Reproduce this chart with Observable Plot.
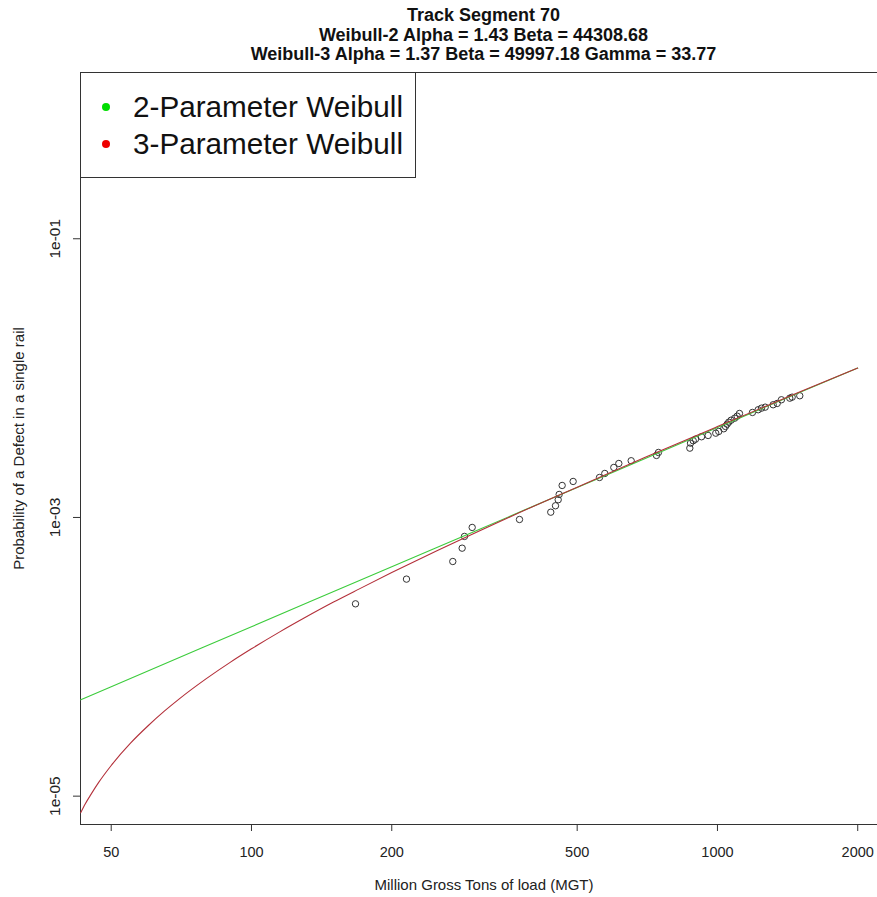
<!DOCTYPE html>
<html>
<head>
<meta charset="utf-8">
<script src="https://cdn.jsdelivr.net/npm/d3@7"></script>
<script src="https://cdn.jsdelivr.net/npm/@observablehq/plot@0.6"></script>
<style>
  html, body { margin: 0; padding: 0; background: #fff; overflow: hidden; }
  #wrap { position: relative; width: 877px; height: 897px; overflow: hidden; font-family: "Liberation Sans", Arial, sans-serif; }
  #title { position: absolute; top: 6px; left: 0; width: 967px; text-align: center; font-weight: bold; font-size: 18px; line-height: 19.5px; color: #111; }
  #chart { position: absolute; top: 0; left: 0; width: 905px; }
  #chart svg { max-width: none !important; width: 905px !important; height: 897px !important; }
  #legend { position: absolute; left: 80px; top: 72px; width: 334px; height: 104px; border: 1px solid #333; background: #fff; }
  .row { position: absolute; left: 0; height: 34px; font-size: 29.7px; line-height: 34px; color: #111; white-space: nowrap; }
  .dot { position: absolute; left: 21px; top: 13px; width: 8px; height: 8px; border-radius: 50%; }
  .lab { position: absolute; left: 52px; top: 0; }
</style>
</head>
<body>
<div id="wrap">
  <div id="chart"></div>
  <div id="title"></div>
  <div id="legend"></div>
</div>
<script>
const titleLines = [
  "Track Segment 70",
  "Weibull-2 Alpha = 1.43 Beta = 44308.68",
  "Weibull-3 Alpha = 1.37 Beta = 49997.18 Gamma = 33.77"
];
const xLabel = "Million Gross Tons of load (MGT)";
const yLabel = "Probability of a Defect in a single rail";
const xTicks = [50, 100, 200, 500, 1000, 2000];
const yTicks = [1e-5, 1e-3, 1e-1];
const yTickLabels = ["1e-05", "1e-03", "1e-01"];
const legendNames = ["2-Parameter Weibull", "3-Parameter Weibull"];
const legendColors = ["#00dd00", "#ee0000"];

// observed points (MGT, probability)
const obsMGT = [167.2, 215.1, 270.4, 283.2, 286.5, 297.6, 376.0, 438.8, 449.2, 455.2, 457.4, 464.2, 490.1,
  558.3, 573.1, 599.2, 614.2, 652.9, 739.8, 747.1, 872.4, 875.4, 887.2, 897.3, 924.3, 955.0, 991.7, 1006.5,
  1031.6, 1040.4, 1049.1, 1057.4, 1070.0, 1089.2, 1102.3, 1114.9, 1188.8, 1223.0, 1243.0, 1266.0, 1316.9,
  1343.3, 1371.7, 1429.5, 1446.5, 1502.0];
const obsProb = [2.40e-4, 3.61e-4, 4.83e-4, 6.02e-4, 7.31e-4, 8.48e-4, 9.67e-4, 1.091e-3, 1.213e-3, 1.340e-3,
  1.463e-3, 1.697e-3, 1.813e-3, 1.936e-3, 2.069e-3, 2.285e-3, 2.440e-3, 2.553e-3, 2.786e-3, 2.927e-3,
  3.143e-3, 3.413e-3, 3.551e-3, 3.646e-3, 3.794e-3, 3.876e-3, 4.026e-3, 4.141e-3, 4.330e-3, 4.498e-3,
  4.672e-3, 4.829e-3, 4.991e-3, 5.159e-3, 5.333e-3, 5.576e-3, 5.669e-3, 5.928e-3, 6.087e-3, 6.188e-3,
  6.438e-3, 6.578e-3, 6.991e-3, 7.179e-3, 7.299e-3, 7.469e-3];

// fitted curves
const w2MGT = [43, 50, 100, 200, 300, 500, 700, 1000, 1500, 2000];
const w2Prob = [4.91e-5, 6.10e-5, 1.643e-4, 4.43e-4, 7.90e-4, 1.64e-3, 2.65e-3, 4.42e-3, 7.89e-3, 1.18e-2];
const w3MGT = [43, 44, 45, 47, 50, 55, 60, 65, 70, 80, 90, 100, 115, 130, 150, 170, 200, 250, 300, 400, 500, 700, 1000, 1500, 2000];
const w3Prob = [7.6e-6, 8.82e-6, 1.00e-5, 1.255e-5, 1.66e-5, 2.40e-5, 3.20e-5, 4.07e-5, 4.99e-5, 6.97e-5, 9.12e-5,
  1.141e-4, 1.51e-4, 1.905e-4, 2.47e-4, 3.06e-4, 4.02e-4, 5.77e-4, 7.67e-4, 1.19e-3, 1.65e-3, 2.70e-3, 4.49e-3, 7.94e-3, 1.18e-2];

const obs = obsMGT.map((x, i) => ({x, y: obsProb[i]}));
const w2 = w2MGT.map((x, i) => ({x, y: w2Prob[i]}));
const w3 = w3MGT.map((x, i) => ({x, y: w3Prob[i]}));

document.getElementById("title").innerHTML = titleLines.map(t => `<div>${t}</div>`).join("");
document.getElementById("legend").innerHTML = legendNames.map((n, i) =>
  `<div class="row" style="top:${17 + i * 37}px"><span class="dot" style="background:${legendColors[i]}"></span><span class="lab">${n}</span></div>`
).join("");

const chart = Plot.plot({
  width: 905,
  height: 897,
  marginLeft: 80,
  marginRight: 18,
  marginTop: 72,
  marginBottom: 73,
  style: {fontFamily: "'Liberation Sans', Arial, sans-serif", color: "#222", background: "#fff", maxWidth: "none"},
  x: {type: "log", domain: [42.96, 2317]},
  y: {type: "log", domain: [6.26e-6, 1.56]},
  marks: [
    Plot.frame({stroke: "#333"}),
    Plot.axisX({ticks: xTicks, tickSize: 7, tickPadding: 15, tickFormat: d => String(d), fontSize: 14.5, label: null, stroke: "#333"}),
    Plot.axisY({ticks: yTicks, tickSize: 7, tickFormat: () => "", label: null, stroke: "#333"}),
    Plot.text(yTicks, {y: d => d, text: (d, i) => yTickLabels[i], frameAnchor: "left", dx: -25, rotate: -90, textAnchor: "middle", fontSize: 15.5, fill: "#222"}),
    Plot.text([xLabel], {frameAnchor: "bottom", dy: 65, textAnchor: "middle", fontSize: 15, fill: "#222"}),
    Plot.text([yLabel], {frameAnchor: "left", dx: -61, rotate: -90, textAnchor: "middle", fontSize: 15, fill: "#222"}),
    Plot.dot(obs, {x: "x", y: "y", r: 3.2, stroke: "#333", strokeWidth: 1, fill: "none"}),
    Plot.line(w2, {x: "x", y: "y", stroke: "#3ccc3c", strokeWidth: 1.1, curve: "monotone-x"}),
    Plot.line(w3, {x: "x", y: "y", stroke: "#b3303a", strokeWidth: 1.1, curve: "monotone-x"})
  ]
});
document.getElementById("chart").appendChild(chart);
</script>
</body>
</html>
